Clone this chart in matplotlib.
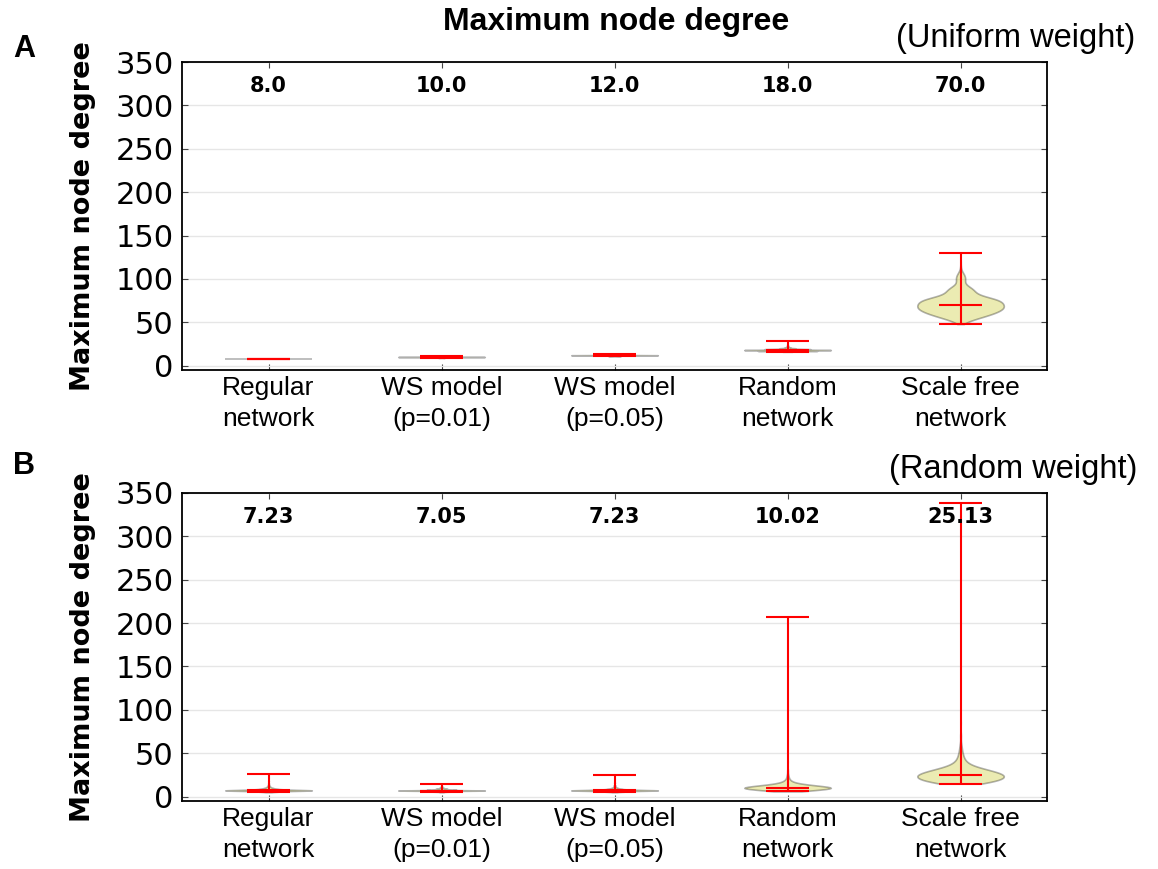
import numpy as np
import matplotlib.pyplot as plt

categories = ["Regular\nnetwork", "WS model\n(p=0.01)", "WS model\n(p=0.05)",
              "Random\nnetwork", "Scale free\nnetwork"]

# (A) uniform weight: observed maximum node degree -> how many networks had it
uni_regular_vals = [8]
uni_regular_counts = [100]
uni_ws01_vals = [9, 10, 11]
uni_ws01_counts = [60, 800, 80]
uni_ws05_vals = [11, 12, 13, 14]
uni_ws05_counts = [100, 700, 120, 30]
uni_random_vals = [16, 17, 18, 19, 20, 21, 22, 24, 26, 28]
uni_random_counts = [40, 260, 380, 200, 70, 25, 10, 4, 2, 1]
uni_sf_vals = [48, 50, 52, 54, 56, 58, 60, 62, 64, 66, 68, 70, 72, 74, 76, 78, 80, 82,
               84, 86, 88, 90, 92, 94, 96, 98, 100, 102, 104, 106, 108, 110, 112, 115, 120, 130]
uni_sf_counts = [5, 12, 22, 35, 50, 62, 75, 85, 93, 98, 100, 98, 95, 95, 88, 72, 50, 38,
                 34, 32, 30, 25, 15, 10, 9, 10, 11, 11, 10, 7, 4, 2, 1, 1, 1, 1]
uni_labels = ["8.0", "10.0", "12.0", "18.0", "70.0"]

# (B) random weight
rnd_regular_vals = [5, 6, 7, 7.23, 8, 9, 10, 11, 12, 13, 15, 18, 22, 26]
rnd_regular_counts = [20, 120, 250, 200, 160, 80, 40, 20, 12, 8, 5, 3, 2, 1]
rnd_ws01_vals = [5, 6, 7, 7.05, 8, 9, 10, 11, 12, 14]
rnd_ws01_counts = [20, 150, 250, 200, 150, 60, 25, 10, 5, 2]
rnd_ws05_vals = [5, 6, 7, 7.23, 8, 9, 10, 11, 13, 16, 20, 25]
rnd_ws05_counts = [20, 130, 250, 200, 150, 70, 30, 15, 8, 4, 2, 1]
rnd_random_vals = [6, 7, 8, 9, 10, 10.02, 11, 12, 13, 14, 15, 17, 19, 22, 25, 30, 40,
                   55, 70, 125, 207]
rnd_random_counts = [15, 60, 110, 150, 140, 120, 140, 110, 80, 55, 40, 30, 20, 12, 8, 5,
                     3, 2, 2, 1, 1]
rnd_sf_vals = [15, 17, 19, 21, 23, 25, 25.13, 27, 29, 31, 33, 36, 40, 45, 50, 55, 60,
               70, 85, 100, 140, 200, 338]
rnd_sf_counts = [70, 95, 110, 120, 125, 40, 90, 110, 90, 75, 60, 48, 35, 22, 14, 9, 6,
                 4, 2, 1, 1, 1, 1]
rnd_labels = ["7.23", "7.05", "7.23", "10.02", "25.13"]


def draw_panel(ax, vals, counts, labels):
    samples = [np.repeat(v, c) for v, c in zip(vals, counts)]
    pos = np.arange(1, len(samples) + 1)
    parts = ax.violinplot(samples, positions=pos, widths=0.5,
                          showmedians=True, points=300)
    for body in parts['bodies']:
        body.set_facecolor('y')
        body.set_edgecolor('k')
        body.set_alpha(0.3)
        body.set_linewidth(1.2)
    for key in ['cbars', 'cmins', 'cmaxes', 'cmedians']:
        parts[key].set_color('red')
        parts[key].set_linewidth(1.5)

    for p, lab in zip(pos, labels):
        ax.text(p, 322, lab, ha='center', va='center', fontsize=15,
                fontweight='bold', family='DejaVu Sans')

    ax.set_xlim(0.5, 5.5)
    ax.set_ylim(-5, 350)
    ax.set_yticks(range(0, 351, 50))
    ax.set_xticks(pos)
    ax.set_xticklabels(categories, fontsize=19, family='Liberation Sans',
                       linespacing=1.4)
    for t in ax.get_yticklabels():
        t.set_fontsize(22)
    ax.tick_params(direction='in', top=True, right=True, length=4, width=0.8,
                   color='#444444')
    ax.tick_params(axis='y', pad=6)
    ax.tick_params(axis='x', pad=4)
    ax.yaxis.grid(True, color='#e6e6e6', linewidth=1)
    ax.set_axisbelow(True)
    for s in ax.spines.values():
        s.set_linewidth(1.3)
    ax.set_ylabel('Maximum node degree', fontsize=19.5, fontweight='bold')
    ax.yaxis.set_label_coords(-0.10, 0.5)


fig = plt.figure(figsize=(11.58, 8.69), dpi=100)
ax_a = fig.add_axes([0.1572, 0.5742, 0.747, 0.3544])
ax_b = fig.add_axes([0.1572, 0.0783, 0.747, 0.3544])

draw_panel(ax_a, [uni_regular_vals, uni_ws01_vals, uni_ws05_vals, uni_random_vals, uni_sf_vals],
           [uni_regular_counts, uni_ws01_counts, uni_ws05_counts, uni_random_counts, uni_sf_counts],
           uni_labels)
draw_panel(ax_b, [rnd_regular_vals, rnd_ws01_vals, rnd_ws05_vals, rnd_random_vals, rnd_sf_vals],
           [rnd_regular_counts, rnd_ws01_counts, rnd_ws05_counts, rnd_random_counts, rnd_sf_counts],
           rnd_labels)

fig.text(0.532, 0.9747, 'Maximum node degree', ha='center', va='center',
         fontsize=23, fontweight='bold', family='Liberation Sans')
fig.text(0.980, 0.956, '(Uniform weight)', ha='right', va='center',
         fontsize=23.5, family='Liberation Sans')
fig.text(0.982, 0.460, '(Random weight)', ha='right', va='center',
         fontsize=23.5, family='Liberation Sans')
fig.text(0.011, 0.944, 'A', ha='left', va='center', fontsize=22,
         fontweight='bold', family='Liberation Sans')
fig.text(0.011, 0.4637, 'B', ha='left', va='center', fontsize=22,
         fontweight='bold', family='Liberation Sans')

fig.savefig('out.png', dpi=100)
